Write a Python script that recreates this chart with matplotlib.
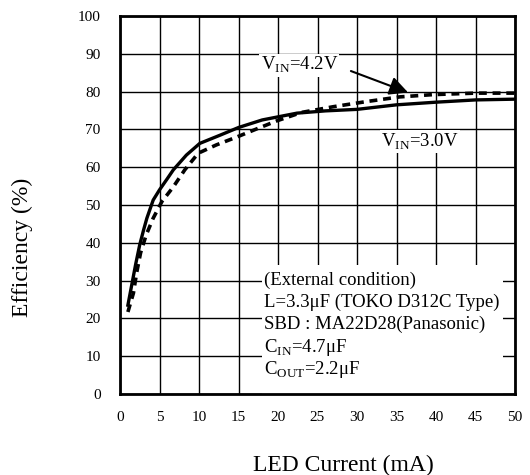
import matplotlib.pyplot as plt
from matplotlib.patches import Rectangle

plt.rcParams['font.family'] = ['Liberation Serif', 'DejaVu Serif']
plt.rcParams['mathtext.fontset'] = 'custom'
plt.rcParams['mathtext.rm'] = 'Liberation Serif'

# VIN = 3.0V (solid)
x_30 = [1, 1.5, 2, 2.5, 3, 3.4, 4.2, 5, 6, 6.75, 8.4, 10.1, 12.7, 15, 18, 22.4, 26, 30, 35, 40, 45, 50]
y_30 = [23.5, 29, 34.5, 39.5, 43.5, 46.5, 51.3, 54, 57, 59.3, 63.2, 66.3, 68.5, 70.5, 72.5, 74.3, 74.9, 75.3, 76.5, 77.2, 77.8, 78]

# VIN = 4.2V (dashed)
x_42 = [1, 1.7, 2.1, 2.6, 3.3, 4.2, 5.3, 6.75, 8.2, 9.9, 12.2, 14.8, 17.5, 19.9, 23, 27, 31, 35.4, 39.6, 45, 50]
y_42 = [21.7, 26.7, 32, 37.3, 42, 46.5, 50.9, 54.8, 59.3, 63.7, 65.9, 68, 70.3, 72.3, 74.5, 76, 77.3, 78.6, 79.2, 79.6, 79.6]

x_ticks = list(range(0, 51, 5))
y_ticks = list(range(0, 101, 10))

cond_lines = [
    '(External condition)',
    'L=3.3μF (TOKO D312C Type)',
    'SBD : MA22D28(Panasonic)',
    r'C$_{\mathrm{IN}}$=4.7μF',
    r'C$_{\mathrm{OUT}}$=2.2μF',
]

fig = plt.figure(figsize=(5.3, 4.75), dpi=100)
ax = fig.add_axes([120 / 530, 81 / 475, 395 / 530, 378 / 475])

ax.plot(x_30, y_30, color='black', lw=2.4, zorder=4)
ax.plot(x_42, y_42, color='black', lw=2.6, ls=(0, (2.2, 1.6)), zorder=4)

ax.set_xlim(0, 50)
ax.set_ylim(0, 100)
ax.set_xticks(x_ticks)
ax.set_yticks(y_ticks)
ax.grid(True, color='black', lw=1.0)
ax.tick_params(length=0, labelsize=11)
ax.tick_params(axis='y', pad=14)
ax.tick_params(axis='x', pad=12)
for s in ax.spines.values():
    s.set_linewidth(2)

# white box behind the condition text
ax.add_patch(Rectangle((18, 0), 30.5, 34, facecolor='white', edgecolor='none', zorder=2))
line_y = [30.7, 24.9, 19.0, 13.1, 7.2]
for t, yy in zip(cond_lines, line_y):
    ax.text(18.2, yy, t, fontsize=13.5, va='center_baseline', ha='left', zorder=5)

box = dict(facecolor='white', edgecolor='none', pad=1)
ax.text(22.7, 87, r'V$_{\mathrm{IN}}$=4.2V', fontsize=13.5, ha='center', va='center', bbox=box, zorder=5)
ax.text(38, 66.7, r'V$_{\mathrm{IN}}$=3.0V', fontsize=13.5, ha='center', va='center', bbox=box, zorder=5)
ax.annotate('', xy=(36.8, 79.5), xytext=(28.9, 85.7),
            arrowprops=dict(arrowstyle='-|>', lw=1.5, color='black', mutation_scale=28), zorder=5)

fig.text(343 / 530, 1 - 465 / 475, 'LED Current (mA)', fontsize=17, ha='center', va='center')
fig.text(22 / 530, 1 - 247 / 475, 'Efficiency (%)', fontsize=17, ha='center', va='center', rotation=90)

fig.savefig('out.png', dpi=100)
